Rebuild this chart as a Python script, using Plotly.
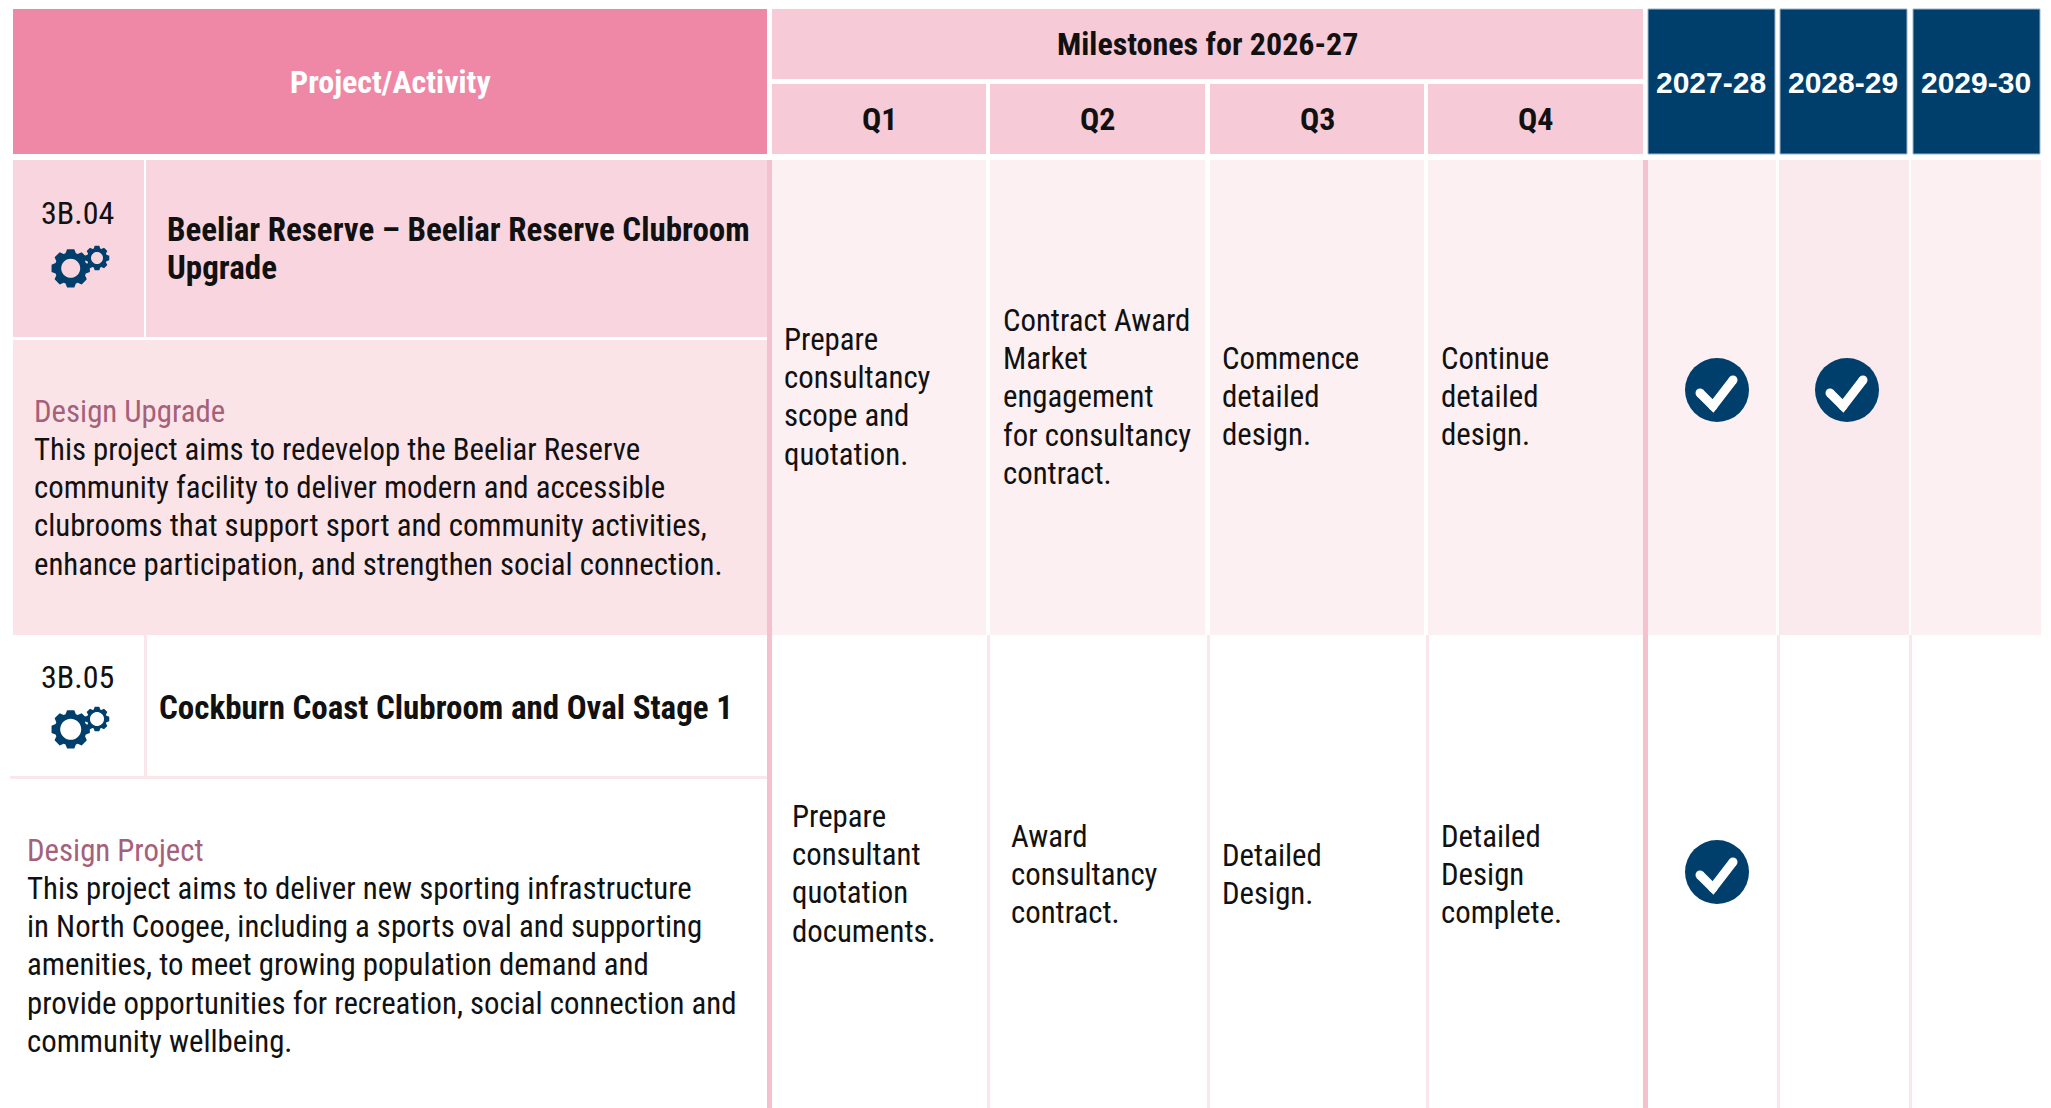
import math
import plotly.graph_objects as go

# ---- content ----
header_project = "Project/Activity"
header_milestones = "Milestones for 2026-27"
quarters = ["Q1", "Q2", "Q3", "Q4"]
years = ["2027-28", "2028-29", "2029-30"]
codes = ["3B.04", "3B.05"]
titles = [["Beeliar Reserve – Beeliar Reserve Clubroom", "Upgrade"],
          ["Cockburn Coast Clubroom and Oval Stage 1"]]
kinds = ["Design Upgrade", "Design Project"]
descriptions = [
    ["This project aims to redevelop the Beeliar Reserve",
     "community facility to deliver modern and accessible",
     "clubrooms that support sport and community activities,",
     "enhance participation, and strengthen social connection."],
    ["This project aims to deliver new sporting infrastructure",
     "in North Coogee, including a sports oval and supporting",
     "amenities, to meet growing population demand and",
     "provide opportunities for recreation, social connection and",
     "community wellbeing."],
]
milestones_row1 = [
    ["Prepare", "consultancy", "scope and", "quotation."],
    ["Contract Award", "Market", "engagement", "for consultancy", "contract."],
    ["Commence", "detailed", "design."],
    ["Continue", "detailed", "design."],
]
milestones_row2 = [
    ["Prepare", "consultant", "quotation", "documents."],
    ["Award", "consultancy", "contract."],
    ["Detailed", "Design."],
    ["Detailed", "Design", "complete."],
]
ticks_row1 = [True, True, False]
ticks_row2 = [True, False, False]

# ---- styles / geometry ----
W, H = 2051, 1108
NARROW = "Roboto Condensed, Roboto"
ARIAL = "Liberation Sans"
FS = 30.8
FSB = 32
FST = 33
LINE = 38.4
NAVY = "#003f6c"
ROSE = "#ef88a6"
PALE = "#f6cbd7"
DIV = "#f5c1cf"
FAINT = "#fbe6ec"
QX = [(772, 986), (990, 1205), (1210, 1424), (1428, 1643)]
YX = [(1648, 1775), (1780, 1907), (1913, 2040)]
CX = [(1648, 1776), (1779, 1909), (1911, 2041)]
ROW1 = (160, 635)
ROW2 = (635, 1108)

shapes, ann = [], []


def rect(x0, y0, x1, y1, fill, line=None):
    shapes.append(dict(type="rect", x0=x0, y0=y0, x1=x1, y1=y1, fillcolor=fill, layer="below",
                       line=dict(width=1 if line else 0, color=line or fill)))


def text(x, y, s, size=FS, color="#111111", bold=False, anchor="left", font=NARROW):
    ann.append(dict(x=x, y=y, text=f"<b>{s}</b>" if bold else s, showarrow=False, xanchor=anchor,
                    yanchor="middle", xref="x", yref="y", align=anchor,
                    font=dict(family=font, size=size, color=color)))


# header
rect(13, 9, 767, 154, ROSE)
rect(772, 9, 1643, 79, PALE)
text(390, 82, header_project, size=FSB, color="white", bold=True, anchor="center")
text(1207, 44, header_milestones, size=FSB, bold=True, anchor="center")
for (a, b), q in zip(QX, quarters):
    rect(a, 84, b, 154, PALE)
    text((a + b) / 2, 119, q, size=FSB, bold=True, anchor="center")
for (a, b), y in zip(YX, years):
    rect(a, 9, b, 154, NAVY, line="#9db5c9")
    text((a + b) / 2 - 1, 82, y, size=30, color="white", anchor="center", font=ARIAL)

# row 1 backgrounds
rect(13, ROW1[0], 144, 337, "#f9d6df")
rect(146, ROW1[0], 767, 337, "#f9d6df")
rect(13, 340, 767, ROW1[1], "#fbe4e8")
rect(767, ROW1[0], 772, 1108, DIV)
rect(1643, ROW1[0], 1648, 1108, DIV)
for a, b in QX:
    rect(a, ROW1[0], b + 0, ROW1[1], "#fcf0f2")
for (a, b), c in zip(CX, ["#fcf0f2", "#fbeaed", "#fcf0f2"]):
    rect(a, ROW1[0], b, ROW1[1], c)

# row 2 rules
rect(144, ROW2[0], 147, 777, FAINT)
rect(10, 776, 767, 779, FAINT)
for x in (987, 1207, 1426, 1777, 1909):
    rect(x, ROW2[0], x + 3, ROW2[1], FAINT)

# left column text
text(77, 213, codes[0], size=32, anchor="center")
text(77, 677, codes[1], size=32, anchor="center")
for i, s in enumerate(titles[0]):
    text(165, 229.5 + i * LINE, s, size=FST, bold=True)
text(156.5, 707, titles[1][0], size=FST, bold=True)
text(32, 411, kinds[0], color="#a5607a")
for i, s in enumerate(descriptions[0]):
    text(32, 449 + i * LINE, s)
text(24.5, 850, kinds[1], color="#a5607a")
for i, s in enumerate(descriptions[1]):
    text(24.5, 888 + i * LINE, s)

# milestones
for col, x, y0 in zip(milestones_row1, (782, 1001, 1220, 1439), (339, 320, 358, 358)):
    for i, s in enumerate(col):
        text(x, y0 + i * LINE, s)
for col, x, y0 in zip(milestones_row2, (790, 1009, 1220, 1439), (816, 836, 855, 836)):
    for i, s in enumerate(col):
        text(x, y0 + i * LINE, s)


# gears
def gear_path(cx, cy, outer, inner, hole, teeth=8):
    pts = []
    step = 2 * math.pi / teeth
    for k in range(teeth):
        t = k * step - math.pi / 2
        for da, r in ((-0.30, inner), (-0.17, outer), (0.17, outer), (0.30, inner)):
            pts.append((cx + r * math.cos(t + da * step * 1.4), cy + r * math.sin(t + da * step * 1.4)))
    d = "M" + " L".join(f"{x:.2f},{y:.2f}" for x, y in pts) + " Z "
    h = [(cx + hole * math.cos(-a * math.pi / 18), cy + hole * math.sin(-a * math.pi / 18)) for a in range(36)]
    d += "M" + " L".join(f"{x:.2f},{y:.2f}" for x, y in h) + " Z"
    return d


for dy, hb, hs in ((0, 9.5, 6), (461, 10.5, 7)):
    shapes.append(dict(type="path", path=gear_path(70.7, 268.3 + dy, 19.5, 16, hb), fillcolor=NAVY,
                       line=dict(width=0), layer="above"))
    shapes.append(dict(type="path", path=gear_path(97, 258 + dy, 12.5, 10, hs), fillcolor=NAVY,
                       line=dict(width=0), layer="above"))

# ticks
fig = go.Figure()
tick_centres = [1717, 1847, 1977]
for row_y, flags in ((390, ticks_row1), (872, ticks_row2)):
    for cx, flag in zip(tick_centres, flags):
        if not flag:
            continue
        fig.add_trace(go.Scatter(x=[cx], y=[row_y], mode="markers", hoverinfo="skip",
                                 marker=dict(size=64, color=NAVY, line=dict(width=0))))
        fig.add_trace(go.Scatter(x=[cx - 17, cx - 4, cx + 16], y=[row_y + 3, row_y + 16, row_y - 10],
                                 mode="lines+markers", hoverinfo="skip",
                                 line=dict(color="white", width=9),
                                 marker=dict(size=9, color="white", line=dict(width=0))))

fig.update_layout(
    width=W, height=H, margin=dict(l=0, r=0, t=0, b=0), showlegend=False,
    paper_bgcolor="white", plot_bgcolor="white",
    xaxis=dict(range=[0, W], visible=False, fixedrange=True),
    yaxis=dict(range=[H, 0], visible=False, fixedrange=True),
    shapes=shapes, annotations=ann,
)
post = """
document.body.style.margin = '0';
document.querySelectorAll('.annotation-text').forEach(function (t) {
    t.style.fontStretch = '75%';
    if (t.textContent.match(/^20\\d\\d-/)) { t.style.fontStretch = ''; t.style.fontWeight = '600'; }
});
"""
fig.write_html("out.html", config=dict(displayModeBar=False), post_script=post)
